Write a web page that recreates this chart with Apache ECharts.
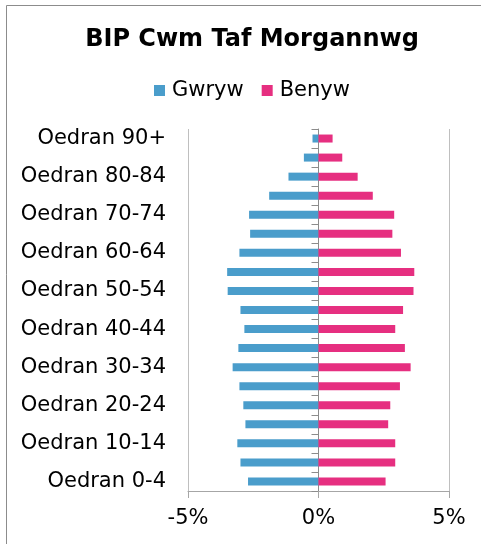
<!DOCTYPE html>
<html>
<head>
<meta charset="utf-8">
<script src="https://cdn.jsdelivr.net/npm/echarts@6/dist/echarts.min.js"></script>
<style>
  html, body { margin: 0; padding: 0; background: #fff; }
  #main { width: 481px; height: 544px; }
</style>
</head>
<body>
<div id="main"></div>
<script>
// age bands, bottom to top
var ageBands = ['Oedran 0-4', 'Oedran 5-9', 'Oedran 10-14', 'Oedran 15-19', 'Oedran 20-24',
  'Oedran 25-29', 'Oedran 30-34', 'Oedran 35-39', 'Oedran 40-44', 'Oedran 45-49',
  'Oedran 50-54', 'Oedran 55-59', 'Oedran 60-64', 'Oedran 65-69', 'Oedran 70-74',
  'Oedran 75-79', 'Oedran 80-84', 'Oedran 85-89', 'Oedran 90+']
// % of population (male shown on the left, so negative)
var gwryw = [-2.70, -2.99, -3.11, -2.80, -2.88, -3.03, -3.29, -3.07, -2.84, -2.99,
  -3.48, -3.50, -3.03, -2.62, -2.66, -1.89, -1.15, -0.56, -0.23]
var benyw = [2.57, 2.94, 2.94, 2.67, 2.75, 3.12, 3.53, 3.31, 2.94, 3.24,
  3.64, 3.67, 3.16, 2.83, 2.90, 2.08, 1.50, 0.91, 0.54]
var xTicks = [-5, 0, 5]

var chart = echarts.init(document.getElementById('main'))

var option = {
  backgroundColor: '#fff',
  textStyle: { fontFamily: 'DejaVu Sans, sans-serif' },
  title: {
    text: 'BIP Cwm Taf Morgannwg',
    left: 247,
    textAlign: 'center',
    top: 23,
    textStyle: { fontSize: 24, fontWeight: 'bold', color: '#000' }
  },
  legend: {
    top: 75,
    left: 149,
    itemWidth: 11,
    itemHeight: 11,
    itemGap: 18,
    icon: 'rect',
    textStyle: { fontSize: 21, color: '#000', padding: [0, 0, 0, 2] },
    data: ['Gwryw', 'Benyw']
  },
  graphic: [{
    type: 'polyline',
    shape: { points: [[6.5, 544], [6.5, 5.5], [481, 5.5]] },
    style: { stroke: '#8c8c8c', lineWidth: 1, fill: null },
    silent: true
  }],
  grid: { left: 188, right: 32, top: 129, bottom: 53 },
  xAxis: {
    type: 'value',
    min: xTicks[0],
    max: xTicks[xTicks.length - 1],
    interval: 5,
    axisLine: { show: true, lineStyle: { color: '#a6a6a6' } },
    axisTick: { show: true, inside: false, length: 7, lineStyle: { color: '#a6a6a6' } },
    axisLabel: { fontSize: 21, color: '#000', margin: 17, formatter: '{value}%' },
    splitLine: { show: true, lineStyle: { color: '#bfbfbf' } }
  },
  yAxis: [{
    type: 'category',
    data: ageBands,
    position: 'left',
    axisLine: { show: false, onZero: false },
    axisTick: { show: false },
    axisLabel: { interval: 1, fontSize: 21, color: '#000', margin: 22 }
  }, {
    type: 'category',
    data: ageBands,
    position: 'left',
    axisLine: { show: true, onZero: true, lineStyle: { color: '#8c8c8c' } },
    axisTick: { show: true, interval: 0, length: 7, lineStyle: { color: '#8c8c8c' } },
    axisLabel: { show: false }
  }],
  series: [{
    name: 'Gwryw',
    type: 'bar',
    data: gwryw,
    barWidth: 8,
    barGap: '-100%',
    itemStyle: { color: '#4a9dcb' }
  }, {
    name: 'Benyw',
    type: 'bar',
    data: benyw,
    barWidth: 8,
    barGap: '-100%',
    itemStyle: { color: '#e62f80' }
  }]
}

chart.setOption(option)
</script>
</body>
</html>
